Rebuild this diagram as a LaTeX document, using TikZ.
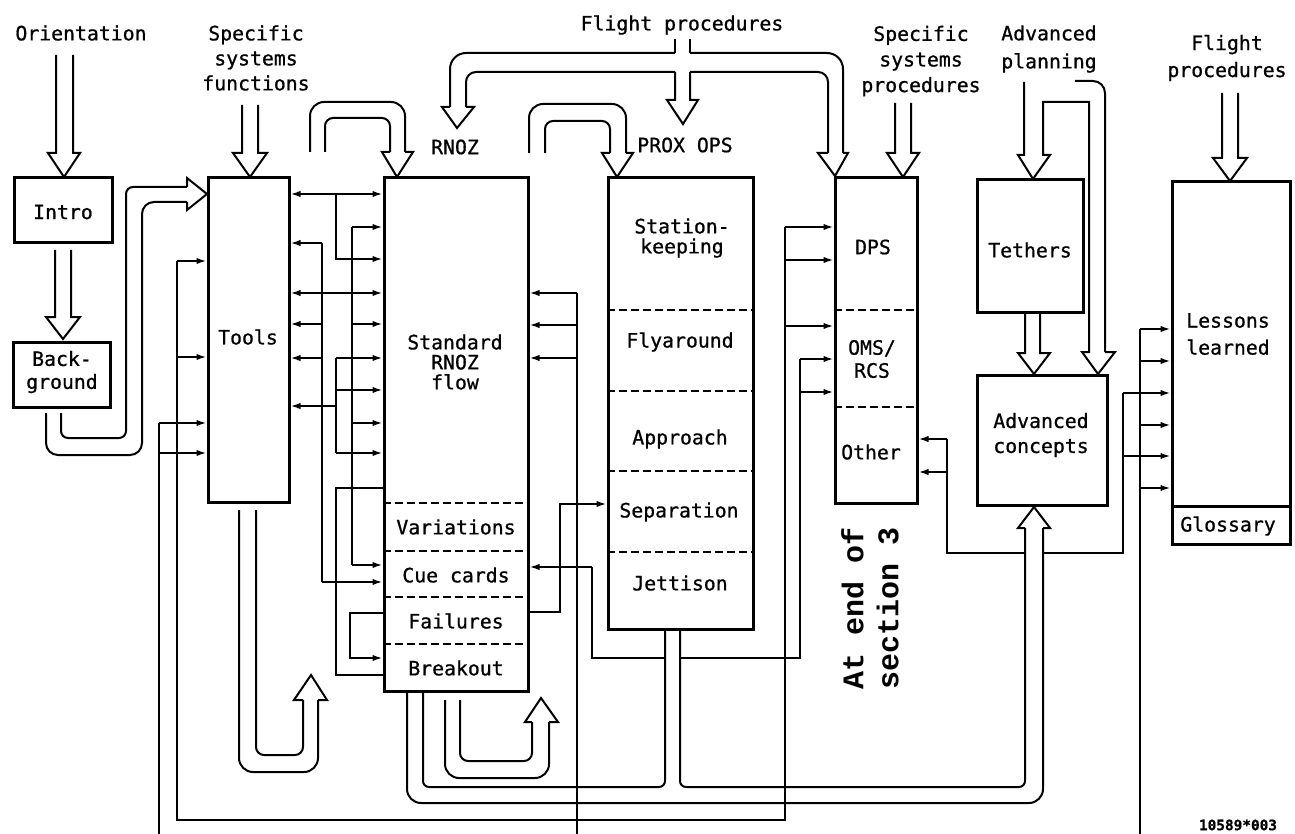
\documentclass[tikz,border=0pt]{standalone}
\usepackage{fontspec}
\newfontfamily\labfont{DejaVu Sans Mono}[FakeBold=0.8]
\newfontfamily\typfont{Liberation Mono}
\usetikzlibrary{arrows.meta,fit}
\begin{document}
\begin{tikzpicture}[x=0.5pt,y=-0.5pt,
  box/.style={draw, line width=1.5pt, inner sep=0pt},
  boxln/.style={line width=1.5pt},
  dashln/.style={line width=1pt, dash pattern=on 4pt off 2pt},
  band/.style={line width=1pt, line join=miter},
  conn/.style={line width=0.9pt},
  arr/.style={conn, -{Latex[length=5pt,width=3.2pt]}},
  darr/.style={conn, {Latex[length=5pt,width=3.2pt]}-{Latex[length=5pt,width=3.2pt]}},
  lab/.style={font=\labfont\fontsize{9.9}{12.5}\selectfont, align=center, inner sep=0pt},
  bs/.style={font=\labfont\fontsize{9.9}{#1}\selectfont}
]
\useasboundingbox (0,0) rectangle (1295,834);

% ---------- boxes ----------
\node[box, fit={(14,178) (112,243)}] (intro) {};
\node[box, fit={(13,342) (110,407)}] (backg) {};
\node[box, fit={(208,178) (289,502)}] (tools) {};
\node[box, fit={(384,178) (528,691)}] (rnoz) {};
\node[box, fit={(608,178) (753,629)}] (prox) {};
\node[box, fit={(835,178) (917,503)}] (dps) {};
\node[box, fit={(977,180) (1083,312)}] (tethers) {};
\node[box, fit={(977,375) (1107,505)}] (advc) {};
\node[box, fit={(1172,182) (1290,544)}] (lessons) {};

\foreach \yy in {503,551,597,644} \draw[dashln] (rnoz.west |- 0,\yy) -- (rnoz.east |- 0,\yy);
\foreach \yy in {310,391,471,552} \draw[dashln] (prox.west |- 0,\yy) -- (prox.east |- 0,\yy);
\foreach \yy in {310,407} \draw[dashln] (dps.west |- 0,\yy) -- (dps.east |- 0,\yy);
\draw[boxln] (lessons.west |- 0,506) -- (lessons.east |- 0,506);

% ---------- texts ----------
\node[lab] at (81,33) {Orientation};
\node[lab] at (256,58) {Specific\\systems\\functions};
\node[lab] at (682,25) {Flight procedures};
\node[lab] at (455,147) {RNOZ};
\node[lab] at (685,145) {PROX OPS};
\node[lab, bs=12.8pt] at (921,61) {Specific\\systems\\procedures};
\node[lab, bs=14pt] at (1049,49) {Advanced\\planning};
\node[lab, bs=13.5pt] at (1227,58) {Flight\\procedures};
\node[lab] at (63,212) {Intro};
\node[lab, bs=11.5pt] at (62,372) {Back-\\ground};
\node[lab] at (248,337) {Tools};
\node[lab, bs=10pt] at (455,362) {Standard\\RNOZ\\flow};
\node[lab] at (456,527) {Variations};
\node[lab] at (456,575) {Cue cards};
\node[lab] at (456,621) {Failures};
\node[lab] at (456,668) {Breakout};
\node[lab, bs=10pt] at (682,238) {Station-\\keeping};
\node[lab] at (680,342) {Flyaround};
\node[lab] at (680,439) {Approach};
\node[lab] at (679,512) {Separation};
\node[lab] at (680,583) {Jettison};
\node[lab] at (873,247) {DPS};
\node[lab, bs=11.5pt] at (872,359) {OMS/\\RCS};
\node[lab] at (871,452) {Other};
\node[lab] at (1030,250) {Tethers};
\node[lab] at (1041,435) {Advanced\\concepts};
\node[lab, bs=13.5pt] at (1228,334) {Lessons\\learned};
\node[lab] at (1228,526) {Glossary};
\node[font=\typfont\bfseries\fontsize{15}{17.5}\selectfont, align=center, inner sep=0pt, rotate=90] at (870,608) {At end of\\section 3};
\node[font=\labfont\bfseries\fontsize{7.2}{8}\selectfont, inner sep=0pt] at (1238,825) {10589*003};

% ---------- hollow (band) arrows ----------
% Orientation -> Intro
\draw[band] (56,55) -- (56,153) -- (48,153) -- (64,177) -- (80,153) -- (73,153) -- (73,55);
% Intro -> Background
\draw[band] (55,250) -- (55,317) -- (46,317) -- (63,339) -- (80,317) -- (71,317) -- (71,250);
% Specific systems functions -> Tools
\draw[band] (242,105) -- (242,153) -- (233,153) -- (250,177) -- (267,153) -- (258,153) -- (258,105);
% Specific systems procedures -> DPS
\draw[band] (895,103) -- (895,153) -- (887,153) -- (903,177) -- (919,153) -- (911,153) -- (911,103);
% Flight procedures -> Lessons
\draw[band] (1222,93) -- (1222,158) -- (1213,158) -- (1230,181) -- (1247,158) -- (1238,158) -- (1238,93);
% Tethers -> Advanced concepts
\draw[band] (1025,313) -- (1025,353) -- (1018,353) -- (1034,374) -- (1050,353) -- (1040,353) -- (1040,313);
% Advanced planning -> Tethers and Advanced concepts
\draw[band] (1024,82) -- (1024,155) -- (1018,155) -- (1033,179) -- (1050,155) -- (1043,155) -- (1043,102) -- (1089,102) -- (1089,352) -- (1082,352) -- (1098,374) -- (1115,352) -- (1105,352);
\draw[band, rounded corners=6pt] (1105,352) -- (1105,81) -- (1075,81);
% Background -> Tools
\draw[band, rounded corners=6pt] (46,413) -- (46,455) -- (142,455) -- (142,202) -- (187,202);
\draw[band, rounded corners=3.5pt] (61,413) -- (61,438) -- (126,438) -- (126,187) -- (187,187);
\draw[band] (187,187) -- (187,178) -- (207,194) -- (187,210) -- (187,202);
% loop over Tools -> RNOZ
\draw[band, rounded corners=7pt] (310,152) -- (310,102) -- (405,102) -- (405,152);
\draw[band, rounded corners=4pt] (325,152) -- (325,118) -- (390,118) -- (390,152);
\draw[band] (390,152) -- (382,152) -- (397,177) -- (413,152) -- (405,152);
% loop RNOZ -> PROX OPS
\draw[band, rounded corners=7pt] (529,153) -- (529,104) -- (626,104) -- (626,153);
\draw[band, rounded corners=4pt] (545,153) -- (545,121) -- (610,121) -- (610,153);
\draw[band] (610,153) -- (602,153) -- (617,177) -- (633,153) -- (626,153);
% Flight procedures (top) branching arrow
\draw[band] (675,39) -- (675,53);
\draw[band, rounded corners=8pt] (675,53) -- (450,53) -- (450,107);
\draw[band] (450,107) -- (442,107) -- (457,128) -- (474,107) -- (466,107);
\draw[band, rounded corners=5pt] (466,107) -- (466,72) -- (675,72);
\draw[band] (675,72) -- (675,100) -- (667,100) -- (683,124) -- (698,100) -- (690,100) -- (690,72);
\draw[band, rounded corners=5pt] (690,72) -- (828,72) -- (828,153);
\draw[band] (828,153) -- (818,153) -- (835,176) -- (848,153) -- (843,153);
\draw[band, rounded corners=8pt] (843,153) -- (843,53) -- (690,53);
\draw[band] (690,53) -- (690,39);
% loop under Tools
\draw[band, rounded corners=7pt] (239,510) -- (239,772) -- (318,772) -- (318,700);
\draw[band, rounded corners=4pt] (256,510) -- (256,755) -- (303,755) -- (303,700);
\draw[band] (303,700) -- (294,700) -- (311,675) -- (327,700) -- (318,700);
% loop under RNOZ
\draw[band, rounded corners=7pt] (445,700) -- (445,778) -- (549,778) -- (549,722);
\draw[band, rounded corners=4pt] (460,700) -- (460,761) -- (532,761) -- (532,722);
\draw[band] (532,722) -- (525,722) -- (541,698) -- (558,722) -- (549,722);
% big band RNOZ + PROX -> Advanced concepts
\draw[band, rounded corners=7pt] (407,692) -- (407,803) -- (1043,803) -- (1043,528);
\draw[band, rounded corners=3pt] (423,692) -- (423,787) -- (665,787) -- (665,629);
\draw[band, rounded corners=3pt] (680,629) -- (680,787) -- (1025,787) -- (1025,528);
\draw[band] (1025,528) -- (1018,528) -- (1034,507) -- (1050,528) -- (1043,528);

% ---------- thin connectors ----------
% Tools <-> RNOZ
\draw[darr] (tools.east |- 0,194) -- (rnoz.west |- 0,194);
\draw[darr] (tools.east |- 0,293) -- (rnoz.west |- 0,293);
\draw[arr] (336,194) -- (336,259) -- (rnoz.west |- 0,259);
\draw[conn] (352,227) -- (352,565);
\foreach \yy in {227,324,423,565} \draw[arr] (352,\yy) -- (rnoz.west |- 0,\yy);
\draw[conn] (322,243) -- (322,582);
\foreach \yy in {243,324,358} \draw[arr] (322,\yy) -- (tools.east |- 0,\yy);
\draw[arr] (322,582) -- (rnoz.west |- 0,582);
\draw[conn] (336,358) -- (336,453);
\foreach \yy in {358,390,453} \draw[arr] (336,\yy) -- (rnoz.west |- 0,\yy);
\draw[arr] (336,406) -- (tools.east |- 0,406);
\draw[conn] (rnoz.west |- 0,488) -- (336,488) -- (336,675) -- (rnoz.west |- 0,675);
\draw[arr] (rnoz.west |- 0,613) -- (350,613) -- (350,658) -- (rnoz.west |- 0,658);
% left of Tools
\draw[conn] (177,261) -- (177,820) -- (785,820) -- (785,227);
\foreach \yy in {261,357} \draw[arr] (177,\yy) -- (tools.west |- 0,\yy);
\foreach \yy in {227,260,326} \draw[arr] (785,\yy) -- (dps.west |- 0,\yy);
\draw[conn] (159,423) -- (159,834);
\foreach \yy in {423,453} \draw[arr] (159,\yy) -- (tools.west |- 0,\yy);
% right of RNOZ
\draw[conn] (577,293) -- (577,834);
\foreach \yy in {293,325,358} \draw[arr] (577,\yy) -- (rnoz.east |- 0,\yy);
\draw[arr] (rnoz.east |- 0,612) -- (560,612) -- (560,504) -- (prox.west |- 0,504);
\draw[conn] (800,359) -- (800,658) -- (680,658) (665,658) -- (592,658) -- (592,567);
\draw[arr] (592,567) -- (rnoz.east |- 0,567);
\foreach \yy in {359,392} \draw[arr] (800,\yy) -- (dps.west |- 0,\yy);
% right region
\foreach \yy in {439,472} \draw[arr] (947,\yy) -- (dps.east |- 0,\yy);
\draw[conn] (947,439) -- (947,553) -- (1025,553) (1043,553) -- (1123,553) -- (1123,393);
\foreach \yy in {393,456} \draw[arr] (1123,\yy) -- (lessons.west |- 0,\yy);
\draw[conn] (1140,329) -- (1140,834);
\foreach \yy in {329,361,425,488} \draw[arr] (1140,\yy) -- (lessons.west |- 0,\yy);
\end{tikzpicture}
\end{document}
